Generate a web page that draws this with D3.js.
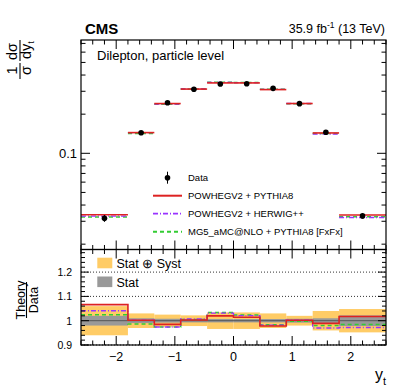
<!DOCTYPE html>
<html><head><meta charset="utf-8">
<script src="https://cdn.jsdelivr.net/npm/d3@7"></script>
<style>body{margin:0;background:#fff}svg{font-family:"Liberation Sans",Arial,sans-serif}</style>
</head><body>
<svg id="c" width="407" height="391"></svg>
<script>
// ---- data ----
const binEdges = [-2.6,-1.8,-1.35,-0.9,-0.45,0,0.45,0.9,1.35,1.8,2.6];
const dataVals = [0.0316,0.144,0.245,0.311,0.341,0.343,0.316,0.241,0.145,0.033];
const ratioPowhegPythia = [1.066,1.002,0.985,1.003,1.02,1.014,0.978,1.002,0.989,1.017];
const ratioPowhegHerwig = [1.041,1.002,0.974,1.007,1.031,1.021,0.982,1.002,0.970,0.972];
const ratioMG5 = [1.025,0.986,0.974,1.005,1.034,1.023,0.983,0.998,0.980,0.984];
const totUnc = [0.06,0.03,0.025,0.022,0.034,0.034,0.03,0.02,0.04,0.048];
const statUnc = [0.02,0.01,0.008,0.007,0.007,0.007,0.007,0.008,0.01,0.022];
const xTicks = [-2,-1,0,1,2];
const ratioTicks = [0.9,1,1.1,1.2];
const mainYTicks = [0.1];

const svg = d3.select("#c");
const L=81, R=386, T=40, MB=249.5, RT=249.5, RB=345;
const x = d3.scaleLinear().domain([-2.6,2.6]).range([L,R]);
const pxPerDec = 130, y01 = 153.3;
const y = d3.scaleLog().domain([0.1*Math.pow(10,-(MB-y01)/pxPerDec), 0.1*Math.pow(10,(y01-T)/pxPerDec)]).range([MB,T]);
const yr = d3.scaleLinear().domain([0.9, 1+(320.7-RT)/243]).range([RB,RT]);

const bins = dataVals.map((v,i)=>({x0:binEdges[i],x1:binEdges[i+1],xc:(binEdges[i]+binEdges[i+1])/2,v,i}));
const series = [
  {name:"POWHEGV2 + PYTHIA8", r:ratioPowhegPythia, color:"#dd2222", dash:null, w:1.6},
  {name:"POWHEGV2 + HERWIG++", r:ratioPowhegHerwig, color:"#9933ff", dash:"5,2,1,2", w:1.3},
  {name:"MG5_aMC@NLO + PYTHIA8 [FxFx]", r:ratioMG5, color:"#33cc33", dash:"4,3", w:1.5}
];

// ---- main panel ----
const gm = svg.append("g");
series.slice().reverse().forEach(s=>{
  gm.selectAll(null).data(bins).enter().append("line")
    .attr("x1",d=>x(d.x0)).attr("x2",d=>x(d.x1))
    .attr("y1",d=>y(d.v*s.r[d.i])).attr("y2",d=>y(d.v*s.r[d.i]))
    .attr("stroke",s.color).attr("stroke-width",s.w).attr("stroke-dasharray",s.dash);
});
gm.selectAll(null).data(bins).enter().append("line")
  .attr("x1",d=>x(d.xc)).attr("x2",d=>x(d.xc))
  .attr("y1",d=>y(d.v*(1+totUnc[d.i]))).attr("y2",d=>y(d.v*(1-totUnc[d.i])))
  .attr("stroke","#000").attr("stroke-width",1);
gm.selectAll(null).data(bins).enter().append("circle")
  .attr("cx",d=>x(d.xc)).attr("cy",d=>y(d.v)).attr("r",2.8).attr("fill","#000");

// frame and ticks main
function xTicksOn(yPos, dir){
  const g = svg.append("g").attr("stroke","#000").attr("stroke-width",1);
  d3.range(-2.6,2.61,0.2).forEach(t=>{
    const tt = Math.round(t*10)/10;
    const major = Math.abs(tt-Math.round(tt))<1e-6;
    const len = major?9:4.5;
    g.append("line").attr("x1",x(tt)).attr("x2",x(tt)).attr("y1",yPos).attr("y2",yPos+dir*len);
  });
}
svg.append("rect").attr("x",L).attr("y",T).attr("width",R-L).attr("height",MB-T).attr("fill","none").attr("stroke","#000").attr("stroke-width",1.2);
xTicksOn(T,1); xTicksOn(MB,-1);
const minorMain = [];
[0.01,0.1].forEach(dec=>{for(let k=1;k<=9;k++){const v=dec*k; if(v>=y.domain()[0]&&v<=y.domain()[1]) minorMain.push(v);}});
const gy = svg.append("g").attr("stroke","#000");
minorMain.forEach(v=>{
  const major = mainYTicks.includes(+v.toFixed(3));
  const len = major?9:4.5;
  gy.append("line").attr("x1",L).attr("x2",L+len).attr("y1",y(v)).attr("y2",y(v));
  gy.append("line").attr("x1",R).attr("x2",R-len).attr("y1",y(v)).attr("y2",y(v));
});
mainYTicks.forEach(v=>{
  svg.append("text").attr("x",L-4).attr("y",y(v)+5).attr("text-anchor","end").attr("font-size",13).text(v);
});

// legend
const lg = svg.append("g").attr("font-size",9.5);
const lx0=153, lx1=182, ltx=188, ly0=177.7, ldy=18;
lg.append("line").attr("x1",(lx0+lx1)/2).attr("x2",(lx0+lx1)/2).attr("y1",ly0-6).attr("y2",ly0+6).attr("stroke","#000");
lg.append("circle").attr("cx",(lx0+lx1)/2).attr("cy",ly0).attr("r",2.8);
lg.append("text").attr("x",ltx).attr("y",ly0+3.5).text("Data");
series.forEach((s,i)=>{
  const yy=ly0+ldy*(i+1);
  lg.append("line").attr("x1",lx0).attr("x2",lx1).attr("y1",yy).attr("y2",yy).attr("stroke",s.color).attr("stroke-width",s.w+0.4).attr("stroke-dasharray",s.dash);
  lg.append("text").attr("x",ltx).attr("y",yy+3.5).text(s.name);
});

// header
svg.append("text").attr("x",85).attr("y",34).attr("font-weight","bold").attr("font-size",15).text("CMS");
const lum = svg.append("text").attr("x",385).attr("y",33).attr("text-anchor","end").attr("font-size",12.5);
lum.append("tspan").text("35.9 fb");
lum.append("tspan").attr("font-size",8.5).attr("dy",-5).text("-1");
lum.append("tspan").attr("dy",5).text(" (13 TeV)");
svg.append("text").attr("x",97).attr("y",60).attr("font-size",13).text("Dilepton, particle level");

// main y label
const yl = svg.append("g").attr("transform","translate(20,60) rotate(-90)").attr("font-size",14.5);
yl.append("text").attr("x",-10.5).attr("y",-3).attr("text-anchor","middle").text("1");
yl.append("line").attr("x1",-19).attr("x2",-3).attr("y1",0).attr("y2",0).attr("stroke","#000").attr("stroke-width",1.1);
yl.append("text").attr("x",-10.5).attr("y",11).attr("text-anchor","middle").text("σ");
yl.append("text").attr("x",8.5).attr("y",-3).attr("text-anchor","middle").text("dσ");
yl.append("line").attr("x1",-1).attr("x2",20).attr("y1",0).attr("y2",0).attr("stroke","#000").attr("stroke-width",1.1);
const dy = yl.append("text").attr("x",1).attr("y",11);
dy.append("tspan").text("dy");
dy.append("tspan").attr("font-size",9).attr("dy",3).text("t");

// ---- ratio panel ----
const gr = svg.append("g");
gr.selectAll(null).data(bins).enter().append("rect")
  .attr("x",d=>x(d.x0)).attr("width",d=>x(d.x1)-x(d.x0))
  .attr("y",d=>yr(1+totUnc[d.i])).attr("height",d=>yr(1-totUnc[d.i])-yr(1+totUnc[d.i]))
  .attr("fill","#ffcc66");
gr.selectAll(null).data(bins).enter().append("rect")
  .attr("x",d=>x(d.x0)).attr("width",d=>x(d.x1)-x(d.x0))
  .attr("y",d=>yr(1+statUnc[d.i])).attr("height",d=>yr(1-statUnc[d.i])-yr(1+statUnc[d.i]))
  .attr("fill","#999999");
[0.9,1.1,1.2].forEach(v=>{
  gr.append("line").attr("x1",L).attr("x2",R).attr("y1",yr(v)).attr("y2",yr(v)).attr("stroke","#333").attr("stroke-width",1).attr("stroke-dasharray","1,2");
});
gr.append("line").attr("x1",L).attr("x2",R).attr("y1",yr(1)).attr("y2",yr(1)).attr("stroke","#555").attr("stroke-width",1);
const step = d3.line().x(d=>x(d[0])).y(d=>yr(d[1]));
series.slice().reverse().forEach(s=>{
  const pts=[];
  bins.forEach(d=>{pts.push([d.x0,s.r[d.i]]);pts.push([d.x1,s.r[d.i]]);});
  gr.append("path").attr("d",step(pts)).attr("fill","none").attr("stroke",s.color).attr("stroke-width",s.w).attr("stroke-dasharray",s.dash);
});
svg.append("rect").attr("x",L).attr("y",RT).attr("width",R-L).attr("height",RB-RT).attr("fill","none").attr("stroke","#000").attr("stroke-width",1.2);
xTicksOn(RT,1); xTicksOn(RB,-1);
const gry = svg.append("g").attr("stroke","#000");
d3.range(0.9,1.2901,0.02).forEach(v=>{
  const vv=Math.round(v*100)/100;
  const major = ratioTicks.some(t=>Math.abs(t-vv)<1e-6);
  const len = major?8:4;
  gry.append("line").attr("x1",L).attr("x2",L+len).attr("y1",yr(vv)).attr("y2",yr(vv));
  gry.append("line").attr("x1",R).attr("x2",R-len).attr("y1",yr(vv)).attr("y2",yr(vv));
});
ratioTicks.forEach(v=>{
  svg.append("text").attr("x",72).attr("y",yr(v)+4).attr("text-anchor","end").attr("font-size",10.5).text(v);
});
xTicks.forEach(v=>{
  svg.append("text").attr("x",x(v)).attr("y",360.5).attr("text-anchor","middle").attr("font-size",12.5).text(v<0?"\u2212"+Math.abs(v):v);
});
// ratio legend
svg.append("rect").attr("x",97.3).attr("y",257.7).attr("width",15).attr("height",10.6).attr("fill","#ffcc66");
svg.append("text").attr("x",116.5).attr("y",267.5).attr("font-size",12.5).text("Stat \u2295 Syst");
svg.append("rect").attr("x",97.3).attr("y",276.5).attr("width",15).attr("height",10.6).attr("fill","#999999");
svg.append("text").attr("x",116.5).attr("y",286.5).attr("font-size",12.5).text("Stat");
// ratio y label
const rl = svg.append("g").attr("transform","translate(26.5,300) rotate(-90)").attr("font-size",12.5);
rl.append("text").attr("x",0).attr("y",-2).attr("text-anchor","middle").text("Theory");
rl.append("line").attr("x1",-18).attr("x2",18).attr("y1",0).attr("y2",0).attr("stroke","#000").attr("stroke-width",1.1);
rl.append("text").attr("x",0).attr("y",11).attr("text-anchor","middle").text("Data");
// x label
const xl = svg.append("text").attr("x",375).attr("y",380).attr("font-size",16);
xl.append("tspan").text("y");
xl.append("tspan").attr("font-size",11).attr("dy",5).text("t");
</script>
</body></html>
